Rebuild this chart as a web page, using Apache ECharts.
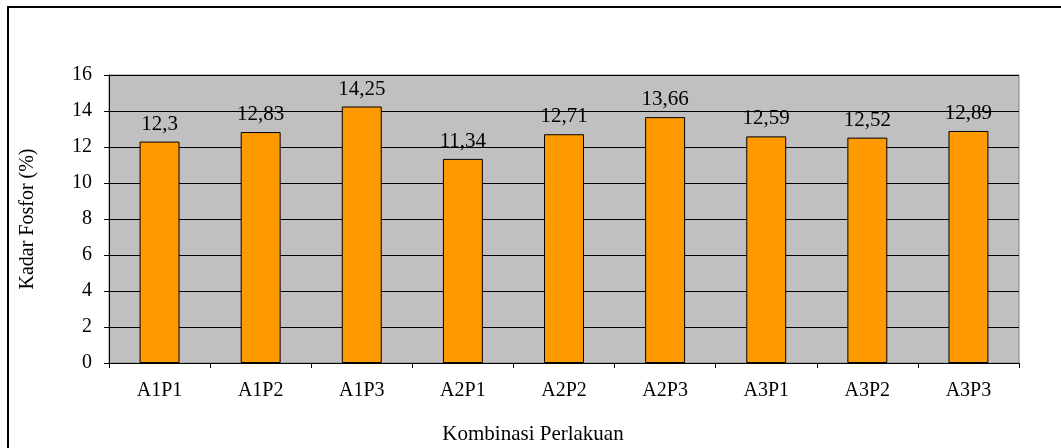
<!DOCTYPE html>
<html>
<head>
<meta charset="utf-8">
<script src="https://cdn.jsdelivr.net/npm/echarts@6/dist/echarts.min.js"></script>
<style>
  html, body { margin: 0; padding: 0; background: #fff; }
  #chart { width: 1061px; height: 448px; }
</style>
</head>
<body>
<div id="chart"></div>
<script>
  // categories + measured phosphor content
  const categories = ['A1P1', 'A1P2', 'A1P3', 'A2P1', 'A2P2', 'A2P3', 'A3P1', 'A3P2', 'A3P3'];
  const kadarFosfor = [12.3, 12.83, 14.25, 11.34, 12.71, 13.66, 12.59, 12.52, 12.89];

  const FONT = '"Liberation Serif", "Times New Roman", serif';
  const fmt = v => String(v).replace('.', ',');

  const chart = echarts.init(document.getElementById('chart'), null, { renderer: 'canvas' });
  chart.setOption({
    animation: false,
    backgroundColor: '#fff',
    graphic: [{
      type: 'rect', silent: true, z: -10,
      shape: { x: 8, y: 7, width: 1100, height: 500 },
      style: { fill: 'none', stroke: '#000', lineWidth: 2 },
    }],
    grid: {
      left: 109, right: 42, top: 75, bottom: 85,
      outerBoundsMode: 'none', containLabel: false,
      show: true, backgroundColor: '#C0C0C0', borderColor: '#808080', borderWidth: 1,
    },
    xAxis: {
      type: 'category', data: categories,
      name: 'Kombinasi Perlakuan', nameLocation: 'middle', nameGap: 61,
      nameTextStyle: { fontFamily: FONT, fontSize: 21, color: '#000', padding: [0, 62, 0, 0] },
      axisLine: { lineStyle: { color: '#000', width: 1 } },
      axisTick: { show: true, length: 5, lineStyle: { color: '#000' } },
      axisLabel: { fontFamily: FONT, fontSize: 20, color: '#000', margin: 18 },
    },
    yAxis: {
      type: 'value', min: 0, max: 16, interval: 2,
      name: 'Kadar Fosfor (%)', nameLocation: 'middle', nameGap: 71, nameRotate: 90,
      nameTextStyle: { fontFamily: FONT, fontSize: 20, color: '#000' },
      axisLine: { show: true, lineStyle: { color: '#000', width: 1 } },
      axisTick: { show: true, length: 5, lineStyle: { color: '#000' } },
      axisLabel: { fontFamily: FONT, fontSize: 20, color: '#000', margin: 17 },
      splitLine: { lineStyle: { color: '#000', width: 1 } },
    },
    series: [{
      type: 'bar', data: kadarFosfor, barWidth: '39.5%',
      itemStyle: { color: '#FF9900', borderColor: '#000', borderWidth: 1 },
      label: {
        show: true, position: 'top', distance: 7,
        fontFamily: FONT, fontSize: 21, color: '#000',
        formatter: p => fmt(p.value),
      },
    }],
  });
</script>
</body>
</html>
